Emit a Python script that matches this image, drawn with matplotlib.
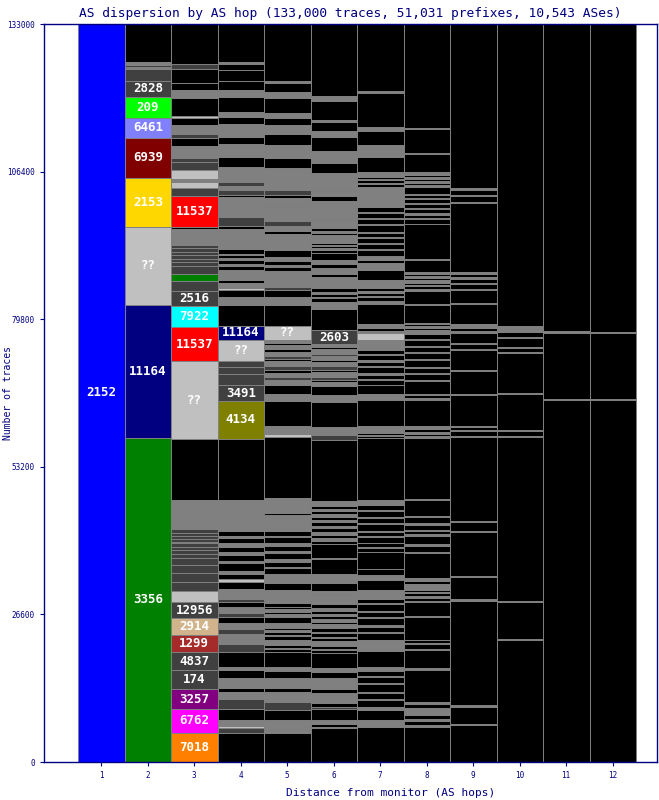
import matplotlib.pyplot as plt
import numpy as np

plt.rcParams["font.family"] = ["DejaVu Sans Mono", "DejaVu Sans"]

NAVY = "#000080"
EDGE = "#808080"

title = "AS dispersion by AS hop (133,000 traces, 51,031 prefixes, 10,543 ASes)"
total_traces = 133000
y_ticks = [0, 26600, 53200, 79800, 106400, 133000]

# blocks per AS hop, bottom to top: (thousands of traces, AS or band)
# blk / gry / dk / sil / grn / lim / tan are unnamed thin bands
hop1 = [(133.0, "2152")]
hop2 = [(58.4, "3356"), (23.97, "11164"), (14.06, "??"), (8.83, "2153"), (7.21, "6939"),
        (3.6, "6461"), (3.78, "209"), (2.88, "2828"), (2.16, "dk"), (0.4, "gry"),
        (0.3, "dk"), (0.56, "gry"), (6.85, "blk")]
hop3 = [(5.23, "7018"), (4.32, "6762"), (3.6, "3257"), (3.42, "174"), (3.24, "4837"),
        (3.06, "1299"), (3.06, "2914"), (2.88, "12956"), (1.98, "sil"),
        (1.62, "dk"), (1.62, "dk"), (1.44, "dk"), (1.26, "dk"),
        (0.72, "dk"), (0.72, "dk"), (0.54, "dk"), (0.72, "dk"), (0.18, "lim"), (0.54, "dk"),
        (0.54, "dk"), (0.54, "dk"), (0.72, "dk"),
        (5.23, "gry"), (10.99, "blk"), (14.06, "??"), (6.13, "11537"), (3.78, "7922"),
        (2.7, "2516"), (1.8, "dk"), (1.26, "grn"), (1.44, "dk"),
        (0.72, "dk"), (0.54, "dk"), (0.72, "dk"), (0.54, "dk"), (0.72, "dk"), (0.54, "dk"),
        (0.18, "tan"), (0.54, "gry"),
        (2.16, "gry"), (0.36, "blk"), (5.59, "11537"), (1.44, "dk"), (1.08, "sil"), (0.54, "gry"),
        (1.62, "sil"), (1.44, "dk"), (0.72, "dk"),
        (2.16, "gry"), (1.44, "blk"), (0.72, "dk"), (0.18, "sil"), (1.44, "gry"), (1.26, "blk"),
        (0.36, "sil"), (3.24, "blk"), (1.44, "gry"), (1.26, "blk"), (2.52, "blk"), (0.9, "dk"),
        (7.3, "blk")]
hop4 = [(5.2, "blk"), (0.9, "dk"), (0.4, "sil"), (1.1, "gry"), (2.0, "blk"), (1.8, "dk"),
        (1.3, "gry"), (0.7, "blk"), (0.2, "sil"), (1.6, "gry"), (1.3, "blk"), (0.7, "gry"),
        (2.7, "blk"), (1.4, "dk"), (0.2, "sil"), (1.6, "gry"), (0.9, "dk"), (1.1, "gry"),
        (1.1, "blk"), (0.7, "dk"), (1.1, "gry"), (0.9, "blk"), (0.5, "dk"), (1.8, "gry"),
        (1.3, "blk"), (0.5, "sil"),
        (0.9, "blk"), (0.5, "gry"), (1.4, "blk"), (0.4, "gry"), (1.1, "blk"), (0.5, "gry"),
        (0.9, "blk"), (0.7, "gry"), (0.9, "blk"), (0.5, "gry"), (0.9, "blk"),
        (5.6, "gry"), (11.0, "blk"), (6.7, "4134"), (2.9, "3491"), (2.0, "dk"), (1.3, "dk"),
        (1.1, "dk"), (3.8, "??"), (2.5, "11164"), (3.8, "blk"),
        (1.4, "gry"), (1.3, "blk"), (0.4, "sil"), (0.9, "gry"), (0.5, "blk"), (1.8, "gry"),
        (0.7, "blk"), (0.4, "gry"), (0.7, "blk"), (0.4, "gry"), (0.5, "blk"), (0.2, "sil"),
        (0.9, "blk"), (3.6, "gry"), (0.5, "blk"), (1.6, "dk"), (3.6, "gry"), (0.4, "blk"),
        (0.9, "dk"), (0.7, "gry"), (0.7, "dk"), (2.7, "gry"), (1.8, "blk"), (2.3, "gry"),
        (1.4, "blk"), (2.2, "gry"), (1.3, "blk"), (0.9, "gry"), (2.7, "blk"), (1.3, "gry"),
        (1.6, "blk"), (2.0, "blk"), (1.1, "blk"), (0.4, "gry"), (7.0, "blk")]
hop5 = [(5.2, "blk"), (0.5, "gry"), (0.3, "blk"), (0.3, "gry"), (1.3, "gry"), (1.8, "blk"),
        (1.4, "dk"), (1.8, "gry"), (0.7, "blk"), (1.8, "gry"), (1.3, "blk"), (0.7, "gry"),
        (2.7, "blk"), (0.6, "blk"), (0.2, "gry"), (0.5, "blk"), (0.9, "gry"),
        (0.7, "blk"), (0.2, "gry"), (0.6, "blk"), (0.2, "gry"), (0.5, "blk"), (0.9, "gry"),
        (1.1, "blk"), (0.5, "gry"), (0.4, "blk"), (0.4, "gry"), (0.5, "blk"), (0.7, "blk"),
        (2.3, "gry"), (1.3, "blk"), (1.6, "gry"),
        (1.0, "blk"), (0.3, "gry"), (0.8, "blk"), (0.5, "gry"), (1.1, "blk"), (0.4, "gry"),
        (0.9, "blk"), (0.6, "gry"), (1.0, "blk"), (0.3, "gry"), (0.8, "blk"),
        (0.5, "gry"), (0.2, "blk"), (2.3, "gry"), (0.2, "blk"), (2.7, "gry"), (11.0, "blk"),
        (0.7, "sil"), (1.4, "gry"), (4.5, "blk"), (1.3, "gry"), (1.6, "blk"),
        (0.9, "gry"), (0.5, "dk"), (0.7, "gry"), (0.5, "blk"), (0.7, "dk"), (0.9, "gry"),
        (0.4, "blk"), (0.5, "dk"), (0.8, "gry"), (0.5, "blk"), (0.7, "gry"), (0.5, "blk"),
        (0.5, "gry"), (2.5, "??"), (3.8, "blk"),
        (1.4, "gry"), (1.3, "blk"), (0.5, "dk"), (2.9, "gry"), (0.7, "blk"), (0.4, "gry"),
        (0.7, "blk"), (0.7, "gry"), (1.3, "blk"), (2.9, "gry"), (0.5, "blk"), (0.9, "gry"),
        (0.9, "dk"), (1.3, "gry"), (1.4, "gry"), (0.2, "blk"), (1.3, "gry"), (0.4, "blk"),
        (0.9, "dk"), (1.4, "gry"), (2.2, "gry"), (0.5, "gry"), (1.8, "blk"), (2.3, "gry"),
        (2.0, "blk"), (1.6, "gry"), (1.3, "blk"), (0.9, "gry"), (2.7, "blk"), (1.1, "gry"),
        (1.6, "blk"), (0.4, "gry"), (10.3, "blk")]
hop6 = [(6.1, "blk"), (0.2, "gry"), (0.5, "blk"), (0.2, "gry"), (0.5, "gry"), (2.0, "blk"),
        (0.5, "dk"), (0.7, "blk"), (1.8, "gry"), (0.7, "blk"), (1.4, "gry"), (0.5, "gry"),
        (1.1, "blk"), (0.7, "gry"), (2.7, "blk"), (0.6, "blk"), (0.2, "gry"), (0.5, "blk"),
        (0.9, "gry"), (0.6, "blk"), (0.2, "gry"), (0.7, "blk"), (0.2, "gry"), (0.6, "blk"),
        (0.7, "gry"), (0.5, "blk"), (0.4, "gry"), (0.6, "blk"), (0.4, "gry"), (0.5, "blk"),
        (0.5, "gry"), (0.7, "blk"), (1.1, "gry"), (0.6, "gry"), (0.2, "blk"), (0.6, "gry"),
        (1.3, "blk"), (1.6, "gry"), (2.7, "blk"), (0.2, "gry"), (2.5, "blk"),
        (0.7, "blk"), (0.4, "gry"), (0.6, "blk"), (0.5, "gry"), (0.8, "blk"), (0.3, "gry"),
        (0.7, "blk"), (0.4, "gry"), (0.6, "blk"), (0.5, "gry"), (0.5, "blk"), (0.4, "gry"),
        (0.5, "blk"), (1.0, "gry"), (11.0, "blk"), (0.9, "dk"), (1.3, "gry"), (4.5, "blk"),
        (1.3, "gry"), (1.6, "blk"),
        (0.7, "gry"), (0.4, "blk"), (0.5, "dk"), (0.9, "gry"), (0.5, "blk"), (0.6, "dk"),
        (0.7, "gry"), (0.5, "blk"), (0.6, "gry"), (0.4, "dk"), (0.9, "gry"), (0.4, "blk"),
        (0.5, "gry"), (2.5, "2603"), (3.8, "blk"), (1.3, "gry"),
        (0.7, "blk"), (0.2, "gry"), (0.6, "blk"), (0.3, "gry"), (0.7, "blk"), (2.0, "gry"),
        (0.5, "blk"), (1.1, "gry"), (0.7, "blk"), (0.7, "gry"), (1.4, "blk"),
        (0.5, "blk"), (0.3, "gry"), (0.4, "blk"), (0.2, "gry"), (0.4, "blk"), (1.4, "gry"),
        (0.4, "blk"), (0.3, "gry"), (0.6, "blk"), (1.4, "gry"), (0.2, "blk"), (3.2, "gry"),
        (0.9, "blk"), (1.1, "gry"), (0.2, "blk"), (2.3, "gry"), (0.5, "gry"), (1.8, "blk"),
        (2.2, "gry"), (2.5, "blk"), (1.1, "gry"), (1.6, "blk"), (0.4, "gry"), (3.4, "blk"),
        (0.9, "gry"), (14.0, "blk")]
hop7 = [(6.3, "blk"), (1.3, "gry"), (1.8, "blk"), (0.5, "gry"),
        (1.3, "blk"), (0.2, "gry"), (1.1, "blk"), (0.2, "gry"), (1.4, "blk"), (0.2, "gry"),
        (1.0, "blk"), (0.2, "gry"), (0.9, "blk"), (0.7, "gry"), (2.9, "blk"), (2.0, "gry"),
        (1.2, "blk"), (0.2, "gry"), (1.0, "blk"), (0.2, "gry"), (1.4, "blk"), (0.2, "gry"),
        (0.9, "blk"), (0.2, "gry"), (1.1, "blk"), (0.2, "gry"), (0.8, "blk"), (1.6, "gry"),
        (1.8, "blk"), (0.9, "gry"), (1.1, "blk"), (3.1, "blk"), (0.7, "blk"), (0.2, "gry"),
        (0.7, "blk"),
        (1.0, "blk"), (0.2, "gry"), (0.8, "blk"), (0.2, "gry"), (1.2, "blk"), (0.2, "gry"),
        (0.9, "blk"), (0.2, "gry"), (1.1, "blk"), (0.2, "gry"), (0.8, "blk"), (0.9, "gry"),
        (11.2, "blk"), (0.3, "blk"), (0.2, "gry"), (0.4, "blk"), (1.3, "gry"), (4.7, "blk"),
        (1.1, "gry"), (1.6, "blk"),
        (0.9, "blk"), (0.2, "gry"), (0.7, "blk"), (0.3, "gry"), (1.0, "blk"), (0.2, "gry"),
        (0.8, "blk"), (0.3, "gry"), (0.9, "blk"), (0.2, "gry"), (0.7, "blk"), (0.6, "gry"),
        (1.3, "gry"), (1.3, "sil"), (0.3, "gry"), (0.5, "blk"), (0.3, "gry"), (0.3, "blk"),
        (0.1, "gry"), (3.6, "blk"), (0.5, "gry"),
        (0.8, "blk"), (0.2, "gry"), (0.6, "blk"), (0.2, "gry"), (0.7, "blk"), (1.4, "gry"),
        (1.8, "blk"), (1.3, "gry"), (0.5, "blk"), (0.7, "gry"),
        (1.0, "blk"), (0.3, "gry"), (0.8, "blk"), (0.2, "gry"), (0.9, "blk"), (0.3, "gry"),
        (0.7, "blk"), (0.2, "gry"), (1.1, "blk"), (0.3, "gry"), (0.9, "blk"), (0.2, "gry"),
        (0.8, "blk"), (0.3, "gry"), (0.9, "blk"), (0.8, "gry"),
        (2.7, "gry"), (0.6, "blk"), (0.2, "gry"), (0.5, "blk"), (0.2, "gry"), (0.3, "blk"),
        (0.9, "gry"), (2.7, "blk"), (0.6, "gry"), (0.2, "blk"), (0.6, "gry"), (0.2, "blk"),
        (0.6, "gry"), (2.5, "blk"), (0.7, "gry"), (6.1, "blk"), (0.5, "gry"), (12.1, "blk")]
hop8 = [(6.3, "blk"), (0.3, "gry"), (0.8, "blk"), (0.3, "gry"), (0.7, "blk"), (1.4, "gry"),
        (0.6, "blk"), (0.4, "gry"), (5.8, "blk"), (0.4, "gry"), (3.2, "blk"),
        (0.2, "gry"), (0.8, "blk"), (0.2, "gry"), (0.6, "blk"), (4.1, "blk"), (0.2, "gry"),
        (2.5, "blk"), (0.2, "gry"), (0.6, "blk"), (0.3, "gry"), (0.5, "blk"), (0.2, "gry"),
        (0.4, "blk"), (1.1, "gry"), (0.5, "blk"), (0.5, "gry"), (4.5, "blk"), (0.2, "gry"),
        (1.2, "blk"), (0.2, "gry"), (1.6, "blk"), (0.2, "gry"), (0.7, "blk"), (0.2, "gry"),
        (0.8, "blk"), (0.3, "gry"), (1.1, "blk"), (0.2, "gry"), (2.9, "blk"), (0.2, "gry"),
        (11.0, "blk"), (0.3, "gry"), (0.5, "blk"), (0.3, "gry"), (0.6, "blk"), (0.5, "gry"),
        (4.7, "blk"), (0.3, "gry"), (0.5, "blk"), (0.3, "gry"), (2.2, "blk"),
        (0.2, "gry"), (1.1, "blk"), (0.2, "gry"), (0.9, "blk"), (0.2, "gry"), (1.3, "blk"),
        (0.2, "gry"), (1.0, "blk"), (0.2, "gry"), (0.8, "blk"), (0.2, "gry"), (1.2, "blk"),
        (0.2, "gry"), (0.9, "blk"), (0.2, "gry"),
        (0.5, "gry"), (0.4, "blk"), (0.3, "gry"), (0.4, "blk"), (0.2, "gry"), (3.2, "blk"),
        (0.2, "gry"), (2.3, "blk"),
        (0.4, "gry"), (0.4, "blk"), (0.3, "gry"), (0.4, "blk"), (0.5, "gry"), (0.3, "blk"),
        (0.4, "gry"), (0.3, "blk"), (0.4, "gry"), (2.2, "blk"), (0.2, "gry"), (6.3, "blk"),
        (0.8, "blk"), (0.2, "gry"), (0.6, "blk"), (0.4, "gry"), (0.7, "blk"), (0.2, "gry"),
        (0.6, "blk"), (0.2, "gry"), (0.8, "blk"), (0.2, "gry"), (0.5, "blk"), (0.2, "gry"),
        (1.3, "blk"), (0.3, "gry"), (0.4, "blk"), (0.3, "gry"), (0.4, "blk"), (0.3, "gry"),
        (0.4, "blk"), (0.3, "gry"), (0.3, "blk"), (3.1, "blk"), (0.2, "gry"), (4.3, "blk"),
        (0.2, "gry"), (18.9, "blk")]
hop9 = [(6.7, "blk"), (0.2, "gry"), (3.1, "blk"), (0.2, "gry"), (18.9, "blk"), (0.2, "gry"),
        (4.0, "blk"), (0.2, "gry"), (7.9, "blk"), (0.2, "gry"), (1.6, "blk"), (0.2, "gry"),
        (15.1, "blk"), (0.2, "gry"), (0.9, "blk"), (0.2, "gry"), (0.5, "blk"), (0.3, "gry"),
        (5.6, "blk"), (0.2, "gry"), (4.0, "blk"), (0.2, "gry"), (3.6, "blk"), (0.2, "gry"),
        (1.0, "blk"), (0.2, "gry"), (1.8, "blk"), (0.3, "gry"), (0.5, "blk"), (0.3, "gry"),
        (0.3, "blk"), (0.2, "gry"), (3.6, "blk"), (0.2, "gry"), (2.2, "blk"),
        (0.3, "gry"), (0.8, "blk"), (0.3, "gry"), (0.7, "blk"), (0.3, "gry"), (0.6, "blk"),
        (0.3, "gry"), (12.4, "blk"), (0.2, "gry"), (1.1, "blk"), (0.2, "gry"), (0.9, "blk"),
        (0.3, "gry"), (29.6, "blk")]
hop10 = [(22.0, "blk"), (0.2, "gry"), (6.7, "blk"), (0.2, "gry"), (29.4, "blk"), (0.2, "gry"),
         (0.9, "blk"), (0.2, "gry"), (6.5, "blk"), (0.2, "gry"), (7.2, "blk"), (0.2, "gry"),
         (0.7, "blk"), (0.2, "gry"), (1.6, "blk"), (0.2, "gry"), (0.9, "blk"), (0.5, "gry"),
         (0.3, "blk"), (0.2, "gry"), (54.5, "blk")]
hop11 = [(65.2, "blk"), (0.2, "gry"), (12.0, "blk"), (0.2, "gry"), (55.4, "blk")]
hop12 = [(65.2, "blk"), (0.2, "gry"), (11.9, "blk"), (0.2, "gry"), (55.5, "blk")]

hops = [hop1, hop2, hop3, hop4, hop5, hop6, hop7, hop8, hop9, hop10, hop11, hop12]

as_colors = {
    "2152": "#0000ff", "3356": "#008000", "11164": "#000080", "??": "#c0c0c0",
    "2153": "#ffd700", "6939": "#800000", "6461": "#8080ff", "209": "#00ff00",
    "2828": "#404040", "7018": "#ff8000", "6762": "#ff00ff", "3257": "#800080",
    "174": "#404040", "4837": "#404040", "1299": "#a52a2a", "2914": "#d2b48c",
    "12956": "#404040", "11537": "#ff0000", "7922": "#00ffff", "2516": "#404040",
    "3491": "#404040", "4134": "#808000", "2603": "#404040",
    "blk": "#000000", "gry": "#808080", "dk": "#404040", "sil": "#c0c0c0",
    "grn": "#008000", "lim": "#00c000", "tan": "#d2b48c",
}
bands = {"blk", "gry", "dk", "sil", "grn", "lim", "tan"}

fig = plt.figure(figsize=(6.59, 8), dpi=100)
ax = fig.add_axes([44 / 659, 38 / 800, 613 / 659, 738 / 800])

for hop, blocks in enumerate(hops, start=1):
    heights = np.array([b[0] for b in blocks]) * 1000
    bottoms = np.concatenate([[0], np.cumsum(heights)[:-1]])
    names = [b[1] for b in blocks]
    ax.bar([hop] * len(blocks), heights, bottom=bottoms, width=1,
           color=[as_colors[n] for n in names], edgecolor=EDGE, linewidth=0.7)
    for h, b, n in zip(heights, bottoms, names):
        if n not in bands:
            ax.text(hop, b + h / 2, n, ha="center", va="center", color="white",
                    fontsize=9, fontweight="bold")

ax.set_xlim(0.5 - 34 / 46.5, 12.5 + 21 / 46.5)
ax.set_ylim(0, total_traces)
ax.set_xticks(range(1, 13))
ax.set_yticks(y_ticks)
ax.tick_params(colors=NAVY, labelsize=5.5, length=3, width=0.8)
for s in ax.spines.values():
    s.set_color(NAVY)
    s.set_linewidth(1)

ax.set_title(title, color=NAVY, fontsize=9.3, pad=5)
ax.set_xlabel("Distance from monitor (AS hops)", color=NAVY, fontsize=8)
ax.xaxis.set_label_coords(0.565, -0.042)
ax.xaxis.label.set_va("center")
ax.set_ylabel("Number of traces", color=NAVY, fontsize=7)
ax.yaxis.set_label_coords(-0.059, 0.5)
ax.yaxis.label.set_va("center")

fig.savefig("out.png", dpi=100)
